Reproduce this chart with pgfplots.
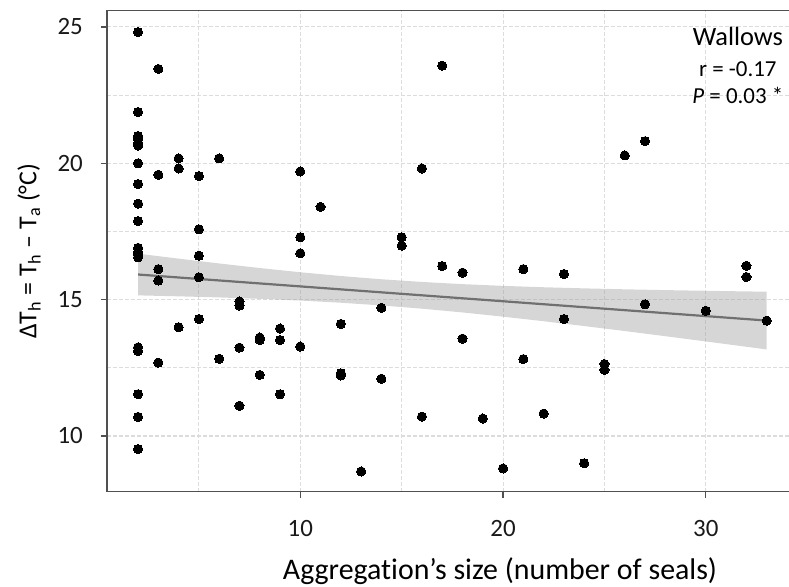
\documentclass[border=0pt]{standalone}
\usepackage{fontspec}
\setmainfont{Carlito}[Ligatures=CommonOff]
\usepackage{pgfplots}
\pgfplotsset{compat=1.18}
\usepackage{pgfplotstable}
\definecolor{gridc}{RGB}{220,220,220}
\definecolor{framec}{RGB}{80,80,80}
\definecolor{linec}{RGB}{112,112,112}
\definecolor{bandc}{RGB}{153,153,153}

\pgfplotstableread{
x y
2 24.81
2 21.88
2 21.00
2 20.90
2 20.75
2 20.65
2 20.00
2 19.24
2 18.52
2 17.88
2 16.90
2 16.75
2 16.65
2 16.55
2 13.25
2 13.12
2 11.53
2 10.70
2 9.52
3 23.46
3 19.58
3 16.12
3 15.70
3 12.69
4 20.18
4 19.81
4 13.99
5 19.53
5 17.58
5 16.61
5 15.82
5 14.29
6 20.18
6 12.83
7 14.93
7 14.78
7 13.24
7 11.11
8 13.61
8 13.52
8 12.24
9 13.94
9 13.52
9 11.53
10 19.70
10 17.29
10 16.70
10 13.28
11 18.40
12 14.11
12 12.30
12 12.22
13 8.70
14 14.70
14 12.10
15 17.29
15 16.98
16 19.81
16 10.71
17 23.58
17 16.23
18 15.99
18 13.57
19 10.64
20 8.81
21 16.12
21 12.82
22 10.82
23 15.94
23 14.29
24 9.00
25 12.64
25 12.42
26 20.29
27 20.81
27 14.83
30 14.59
32 16.24
32 15.83
33 14.23
}\seals

\begin{document}
\begin{tikzpicture}
\begin{axis}[
  at={(0,0)}, anchor=south west,
  scale only axis,
  width=786bp, height=481bp,
  xmin=0.468, xmax=39.23,
  ymin=7.956, ymax=25.596,
  xtick={10,20,30}, minor xtick={5,15,25,35},
  ytick={10,15,20,25}, minor ytick={12.5,17.5,22.5},
  xtick pos=bottom, ytick pos=left,
  tick align=outside,
  major tick length=6bp, minor tick length=0bp,
  tick style={color=framec, line width=1.2bp},
  grid=both,
  major grid style={color=gridc, line width=1.1bp, dash pattern=on 4bp off 2bp},
  minor grid style={color=gridc, line width=1.1bp, dash pattern=on 4bp off 2bp},
  axis line style={color=framec, line width=1.5bp},
  /pgf/number format/assume math mode=true,
  ticklabel style={font=\fontsize{25}{29}\selectfont, color=black!90},
  xticklabel style={inner sep=0pt, anchor=north, yshift=-22bp},
  yticklabel style={inner sep=0pt, anchor=east, xshift=-18bp},
  xlabel={Aggregation’s size (number of seals)},
  xlabel style={font=\fontsize{30}{34}\selectfont, at={(axis description cs:0.5,-0.183)}, anchor=base, inner sep=0pt},
  ylabel={ΔT\textsubscript{h} = T\textsubscript{h} – T\textsubscript{a} (°C)},
  ylabel style={font=\fontsize{26}{30}\selectfont, at={(axis description cs:-0.0992,0.5)}, anchor=center, inner sep=0pt},
]
\addplot[only marks, mark=*, mark size=4.6bp, mark options={fill=black, draw=black, line width=0pt}] table[x=x, y=y] {\seals};
\addplot[draw=none, fill=bandc, fill opacity=0.4] coordinates {
(2,16.686) (4,16.503) (6,16.326) (8,16.159) (10,16.004) (12,15.866) (14,15.747) (16,15.648) (18,15.568) (20,15.505) (22,15.454) (24,15.413) (26,15.378) (28,15.349) (30,15.324) (32,15.301) (33,15.291)
(33,13.173) (32,13.271) (30,13.466) (28,13.659) (26,13.848) (24,14.031) (22,14.208) (20,14.375) (18,14.530) (16,14.668) (14,14.787) (12,14.886) (10,14.966) (8,15.029) (6,15.080) (4,15.121) (2,15.156)
} -- cycle;
\addplot[color=linec, line width=2.2bp] coordinates {(2,15.921) (33,14.232)};
\node[font=\fontsize{26.5}{30}\selectfont, anchor=center] at (axis cs:31.58,24.64) {Wallows};
\node[font=\fontsize{23}{27}\selectfont, anchor=center] at (axis cs:31.58,23.47) {r = -0.17};
\node[font=\fontsize{23}{27}\selectfont, anchor=center] at (axis cs:31.58,22.50) {\textit{P} = 0.03 *};
\end{axis}
\pgfresetboundingbox
\path (-107bp,-95.3bp) rectangle (682bp,491.7bp);
\end{tikzpicture}
\end{document}
